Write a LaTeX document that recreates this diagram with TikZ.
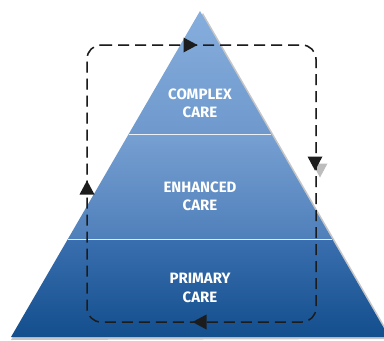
\documentclass[tikz,border=0pt]{standalone}
\usepackage{fontspec}
\setmainfont{Fira Sans}
\definecolor{bandA1}{HTML}{86AEDD}
\definecolor{bandA2}{HTML}{6F99CD}
\definecolor{bandB1}{HTML}{77A0D2}
\definecolor{bandB2}{HTML}{4F7FBA}
\definecolor{bandC1}{HTML}{3A6FAF}
\definecolor{bandC2}{HTML}{134E8D}
\definecolor{loopink}{HTML}{1C1C1C}
\definecolor{loopshade}{HTML}{BDBDBD}
\begin{document}
\begin{tikzpicture}[x=1pt,y=-1pt,
  tier/.style={align=center,text=white,inner sep=0pt,
    font=\bfseries\fontsize{15}{18.5}\selectfont},
  divider/.style={white,line width=0.9pt,opacity=0.85},
  loopline/.style={line width=1.5pt,dash pattern=on 11pt off 6pt,rounded corners=14pt},
  loophead/.pic={\fill (-6.5,-7.5) -- (7.5,0) -- (-6.5,7.5) -- cycle;}]
\useasboundingbox (0,0) rectangle (384,341);
\clip (0,0) rectangle (384,341);

% pyramid outline points and tier boundaries
\coordinate (apex) at (200,11);
\coordinate (bl) at (11,337);
\coordinate (br) at (389,337);
\coordinate (l1) at (128.7,134);
\coordinate (r1) at (271.3,134);
\coordinate (l2) at (67.9,239);
\coordinate (r2) at (332.1,239);

% dashed cycle corners
\coordinate (ctl) at (87,45);
\coordinate (ctr) at (316,45);
\coordinate (cbr) at (316,322);
\coordinate (cbl) at (87,322);

% grey echo of the cycle, partly hidden by the pyramid
\begin{scope}[shift={(6,7)}]
  \draw[loopline,loopshade] (ctl) -- (ctr) -- (cbr) -- (cbl) -- cycle;
  \pic[loopshade] at (314,163) [rotate=-90] {loophead};
\end{scope}

% drop shadow of the pyramid
\fill[gray!45] ([shift={(3,2)}]apex) -- ([shift={(3,2)}]br) -- ([shift={(0,3)}]bl) -- cycle;

% three shaded tiers
\shade[top color=bandA1,bottom color=bandA2] (apex) -- (r1) -- (l1) -- cycle;
\shade[top color=bandB1,bottom color=bandB2] (l1) -- (r1) -- (r2) -- (l2) -- cycle;
\shade[top color=bandC1,bottom color=bandC2] (l2) -- (r2) -- (br) -- (bl) -- cycle;
\draw[divider] (l1) -- (r1);
\draw[divider] (l2) -- (r2);

% tier labels
\node[tier] (complex) at (200,103.5) {COMPLEX\\CARE};
\node[tier] (enhanced) at (200,196.5) {ENHANCED\\CARE};
\node[tier] (primary) at (200,288) {PRIMARY\\CARE};

% clockwise care cycle
\draw[loopline,loopink] (ctl) -- (ctr) -- (cbr) -- (cbl) -- cycle;
\pic[loopink] at (190,45) {loophead};
\pic[loopink] at (315,163) [rotate=-90] {loophead};
\pic[loopink] at (200,322) [rotate=180] {loophead};
\pic[loopink] at (87,188) [rotate=90] {loophead};
\end{tikzpicture}
\end{document}
